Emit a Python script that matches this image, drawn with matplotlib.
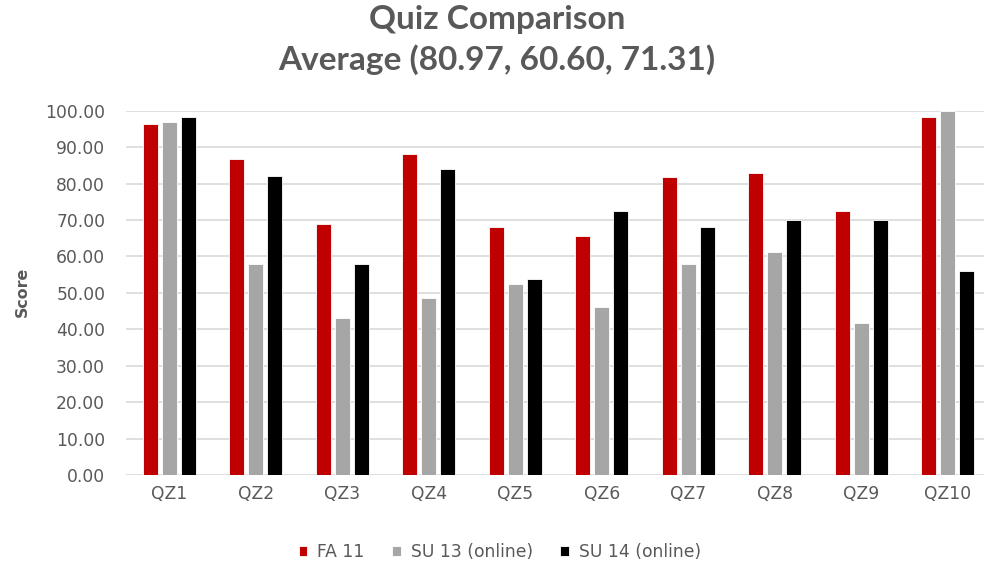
import numpy as np
import matplotlib
matplotlib.use('Agg')
import matplotlib.pyplot as plt

# Data
quizzes = ['QZ1', 'QZ2', 'QZ3', 'QZ4', 'QZ5', 'QZ6', 'QZ7', 'QZ8', 'QZ9', 'QZ10']
fa11 = [96.3, 86.7, 69.0, 88.2, 68.0, 65.6, 81.7, 83.0, 72.4, 98.4]
su13 = [96.8, 58.0, 43.0, 48.5, 52.3, 46.0, 58.0, 61.1, 41.7, 100.0]
su14 = [98.4, 82.0, 57.8, 84.0, 53.9, 72.4, 68.0, 70.0, 70.0, 56.0]
series_names = ['FA 11', 'SU 13 (online)', 'SU 14 (online)']
series_colors = ['#C00000', '#A6A6A6', '#000000']
title_lines = ['Quiz Comparison', 'Average (80.97, 60.60, 71.31)']

text_gray = '#595959'
grid_gray = '#D9D9D9'

W, H = 984, 571
fig = plt.figure(figsize=(W / 100, H / 100), dpi=100)

# plot area in pixels: left 126, width 865, top 110.7, bottom 475
ax = fig.add_axes([126 / W, (H - 475) / H, 865 / W, (475 - 110.7) / H])

x = np.arange(len(quizzes))
step = 0.218
width = 0.175
for i, (vals, name, col) in enumerate(zip([fa11, su13, su14], series_names, series_colors)):
    ax.bar(x + (i - 1) * step, vals, width, color=col, label=name,
           edgecolor='white', linewidth=0.6, zorder=3)

ax.set_xlim(-0.5, len(quizzes) - 0.5)
ax.set_ylim(0, 100)
ax.set_yticks(np.arange(0, 101, 10))
ax.set_yticklabels([f'{v:.2f}' for v in np.arange(0, 101, 10)])
ax.set_xticks(x)
ax.set_xticklabels(quizzes)

ax.yaxis.grid(True, color=grid_gray, linewidth=1.2, zorder=0)
ax.set_axisbelow(True)
for s in ['top', 'right', 'left', 'bottom']:
    ax.spines[s].set_visible(False)
ax.tick_params(axis='both', length=0, colors=text_gray, labelsize=12.3)
ax.tick_params(axis='y', pad=15)
ax.tick_params(axis='x', pad=7)

# titles
title_font = ['Lato', 'DejaVu Sans']
fig.text(497 / W, 1 - 19 / H, title_lines[0], ha='center', va='center',
         fontsize=24, fontweight='bold', color=text_gray, family=title_font)
fig.text(497 / W, 1 - 60 / H, title_lines[1], ha='center', va='center',
         fontsize=24, fontweight='bold', color=text_gray, family=title_font)

fig.text(22 / W, 1 - 292 / H, 'Score', rotation=90, ha='center', va='center',
         fontsize=11.4, fontweight='bold', color=text_gray)

leg = fig.legend(loc='center', bbox_to_anchor=(500 / W, 1 - 552 / H), ncol=3,
                 frameon=False, handlelength=0.5, handleheight=0.5,
                 handletextpad=0.6, columnspacing=1.6, fontsize=12.3)
for t in leg.get_texts():
    t.set_color(text_gray)

fig.savefig('out.png', dpi=100)
